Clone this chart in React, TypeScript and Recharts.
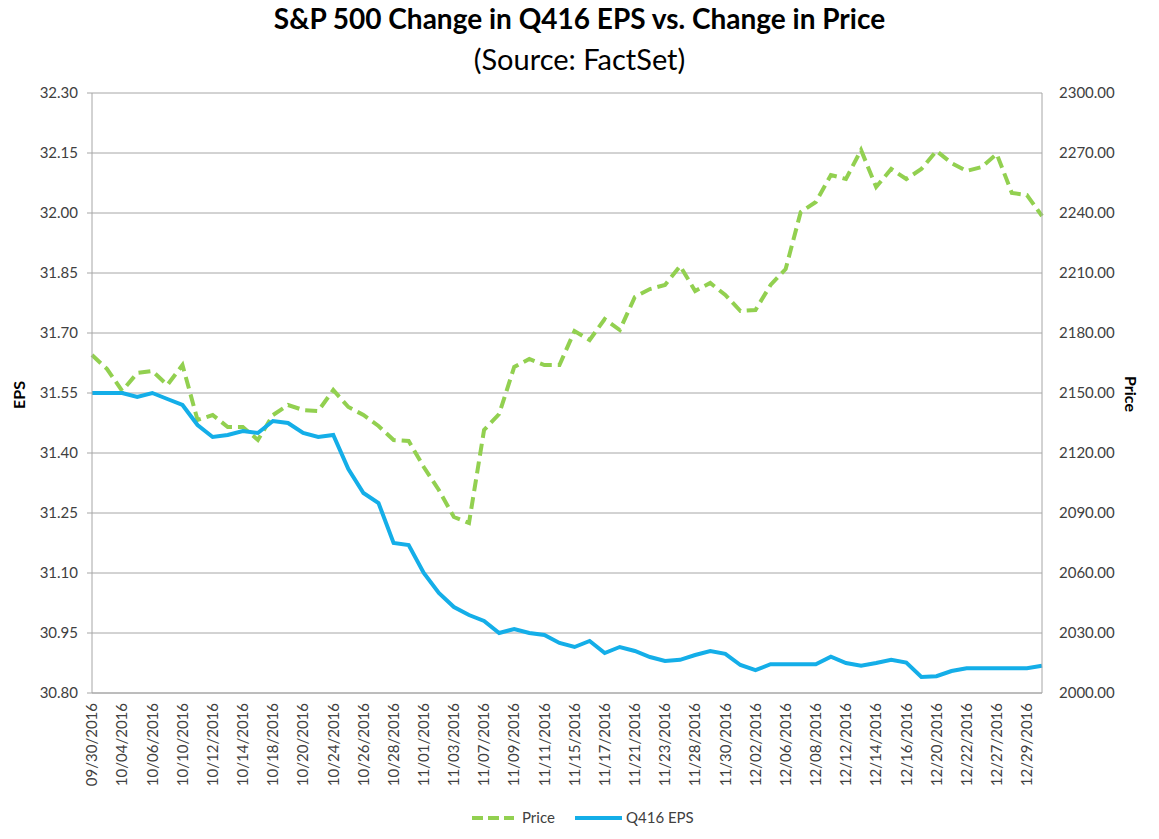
import { CartesianGrid, Line, LineChart, XAxis, YAxis } from 'recharts'

const dates = [
  '09/30/2016', '10/03/2016', '10/04/2016', '10/05/2016', '10/06/2016', '10/07/2016',
  '10/10/2016', '10/11/2016', '10/12/2016', '10/13/2016', '10/14/2016', '10/17/2016',
  '10/18/2016', '10/19/2016', '10/20/2016', '10/21/2016', '10/24/2016', '10/25/2016',
  '10/26/2016', '10/27/2016', '10/28/2016', '10/31/2016', '11/01/2016', '11/02/2016',
  '11/03/2016', '11/04/2016', '11/07/2016', '11/08/2016', '11/09/2016', '11/10/2016',
  '11/11/2016', '11/14/2016', '11/15/2016', '11/16/2016', '11/17/2016', '11/18/2016',
  '11/21/2016', '11/22/2016', '11/23/2016', '11/25/2016', '11/28/2016', '11/29/2016',
  '11/30/2016', '12/01/2016', '12/02/2016', '12/05/2016', '12/06/2016', '12/07/2016',
  '12/08/2016', '12/09/2016', '12/12/2016', '12/13/2016', '12/14/2016', '12/15/2016',
  '12/16/2016', '12/19/2016', '12/20/2016', '12/21/2016', '12/22/2016', '12/23/2016',
  '12/27/2016', '12/28/2016', '12/29/2016', '12/30/2016',
]

const price = [
  2169, 2162, 2151, 2160, 2161, 2154, 2164, 2136.5, 2139, 2133, 2133, 2126.5,
  2139, 2144, 2141.5, 2141, 2151.5, 2143, 2139, 2133.5, 2126.5, 2126, 2113, 2101.5,
  2088, 2085, 2131.5, 2139.5, 2163, 2167, 2164, 2164, 2181, 2176.5, 2187, 2181.5,
  2198, 2202, 2204, 2213.5, 2201, 2205, 2199, 2191, 2191.5, 2204, 2212, 2240.5,
  2245.5, 2259, 2257, 2271.5, 2253, 2262, 2257, 2262, 2271, 2265, 2261, 2263,
  2269.5, 2250, 2249, 2238.5,
]

const eps = [
  31.55, 31.55, 31.55, 31.54, 31.55, 31.535, 31.52, 31.47, 31.44, 31.445, 31.455, 31.45,
  31.48, 31.475, 31.45, 31.44, 31.445, 31.36, 31.3, 31.275, 31.175, 31.17, 31.1, 31.05,
  31.015, 30.995, 30.98, 30.95, 30.96, 30.95, 30.945, 30.925, 30.915, 30.93, 30.9, 30.915,
  30.905, 30.89, 30.88, 30.883, 30.895, 30.905, 30.898, 30.87, 30.857, 30.872, 30.872, 30.872,
  30.872, 30.891, 30.875, 30.868, 30.875, 30.883, 30.876, 30.84, 30.842, 30.855, 30.862, 30.862,
  30.862, 30.862, 30.862, 30.868,
]

const epsTicks = [30.8, 30.95, 31.1, 31.25, 31.4, 31.55, 31.7, 31.85, 32.0, 32.15, 32.3]
const priceTicks = [2000, 2030, 2060, 2090, 2120, 2150, 2180, 2210, 2240, 2270, 2300]

const data = dates.map((date, i) => ({ date, price: price[i], eps: eps[i] }))

const FONT = 'Lato, "Open Sans", sans-serif'
const TEXT = '#404040'
const GRID = '#a6a6a6'
const GREEN = '#92d050'
const BLUE = '#14aee8'

function DateTick({ x, y, payload }: any) {
  return (
    <g transform={`translate(${x},${y})`}>
      <text
        x={-10}
        y={0}
        dy="0.35em"
        transform="rotate(-90)"
        textAnchor="end"
        fill={TEXT}
        fontSize={15}
        fontFamily={FONT}
      >
        {payload.value}
      </text>
    </g>
  )
}

export default function App() {
  return (
    <div style={{ position: 'absolute', left: 0, top: 0, width: 1159, height: 839, background: '#fff', fontFamily: FONT }}>
      <div style={{ position: 'absolute', top: 1, width: 1159, textAlign: 'center', fontSize: 28, lineHeight: '34px', fontWeight: 700, color: '#000' }}>
        S&amp;P 500 Change in Q416 EPS vs. Change in Price
      </div>
      <div style={{ position: 'absolute', top: 41, width: 1159, textAlign: 'center', fontSize: 29, lineHeight: '35px', color: '#000' }}>
        (Source: FactSet)
      </div>

      <LineChart
        width={1159}
        height={839}
        data={data}
        margin={{ top: 93, right: 37, bottom: 0, left: 32 }}
      >
        <CartesianGrid yAxisId="eps" stroke={GRID} vertical={false} />
        <XAxis
          dataKey="date"
          interval={1}
          height={146}
          tickLine={false}
          tickSize={0}
          tickMargin={0}
          axisLine={{ stroke: GRID }}
          tick={<DateTick />}
        />
        <YAxis
          yAxisId="eps"
          width={60}
          domain={[30.8, 32.3]}
          ticks={epsTicks}
          allowDataOverflow
          tickFormatter={(v: number) => v.toFixed(2)}
          tickSize={5}
          tickMargin={9}
          tickLine={{ stroke: GRID }}
          axisLine={{ stroke: GRID }}
          tick={{ fill: TEXT, fontSize: 15, fontFamily: FONT }}
        />
        <YAxis
          yAxisId="price"
          orientation="right"
          width={80}
          domain={[2000, 2300]}
          ticks={priceTicks}
          allowDataOverflow
          tickFormatter={(v: number) => v.toFixed(2)}
          tickSize={0}
          tickMargin={17}
          tickLine={false}
          axisLine={{ stroke: GRID }}
          tick={{ fill: TEXT, fontSize: 15, fontFamily: FONT }}
        />
        <Line
          yAxisId="price"
          dataKey="price"
          type="linear"
          stroke={GREEN}
          strokeWidth={4}
          strokeDasharray="12 6"
          dot={false}
          activeDot={false}
          isAnimationActive={false}
        />
        <Line
          yAxisId="eps"
          dataKey="eps"
          type="linear"
          stroke={BLUE}
          strokeWidth={4}
          dot={false}
          activeDot={false}
          isAnimationActive={false}
        />
      </LineChart>

      <div style={{ position: 'absolute', left: 18, top: 395, transform: 'translate(-50%, -50%) rotate(-90deg)', fontSize: 16, fontWeight: 700, color: '#000' }}>
        EPS
      </div>
      <div style={{ position: 'absolute', left: 1131, top: 394, transform: 'translate(-50%, -50%) rotate(90deg)', fontSize: 16, fontWeight: 700, color: '#000' }}>
        Price
      </div>

      <svg style={{ position: 'absolute', left: 0, top: 805 }} width={1159} height={28}>
        <line x1={472} x2={514} y1={13} y2={13} stroke={GREEN} strokeWidth={4} strokeDasharray="11 5" />
        <text x={522} y={13} dy="0.35em" fontSize={15} fill={TEXT} fontFamily={FONT}>Price</text>
        <line x1={575} x2={622} y1={13} y2={13} stroke={BLUE} strokeWidth={4} />
        <text x={626} y={13} dy="0.35em" fontSize={15} fill={TEXT} fontFamily={FONT}>Q416 EPS</text>
      </svg>
    </div>
  )
}
